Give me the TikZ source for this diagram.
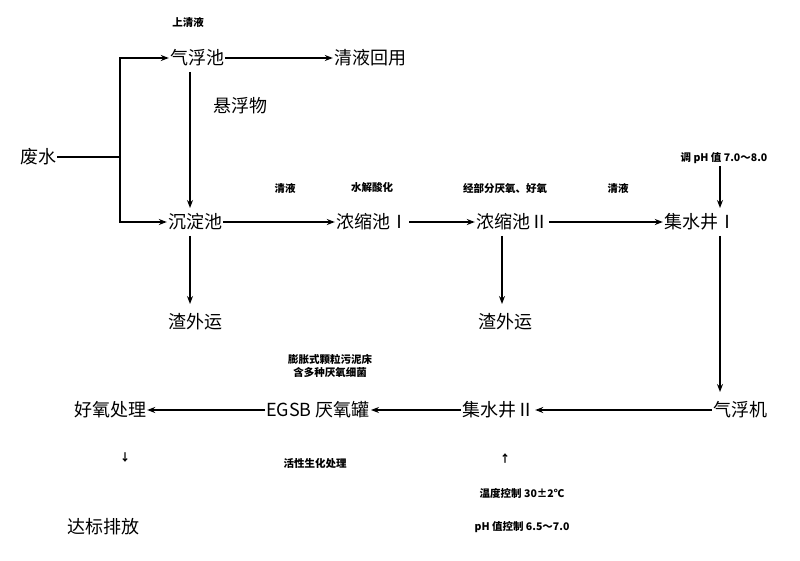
\documentclass[tikz,border=0pt]{standalone}
\usepackage{fontspec}
\setmainfont{Noto Sans CJK SC}
\usetikzlibrary{arrows.meta}
\begin{document}
\begin{tikzpicture}[x=1pt,y=-1pt,
 big/.style={font=\fontsize{18}{20}\selectfont,inner sep=1pt},
 sm/.style={font=\fontsize{10.5}{13}\selectfont\bfseries,inner sep=1pt},
 arr/.style={line width=1.2pt,-{Stealth[length=8pt,width=6pt]}},
 ln/.style={line width=1.2pt}]
\useasboundingbox (0,0) rectangle (800,561);
\node[sm] (t1) at (188,22) {上清液};
\node[big] (qfc) at (197,58) {气浮池};
\node[big] (qyhy) at (370,58) {清液回用};
\node[big] (xfw) at (240,106) {悬浮物};
\node[big] (fs) at (38,157) {废水};
\node[big] (cdc) at (195,222) {沉淀池};
\node[big] (zwy1) at (195,322) {渣外运};
\node[sm] (t2) at (285,188) {清液};
\node[sm] (t3) at (372,188) {水解酸化};
\node[big] (nsc1) at (372,222) {浓缩池Ⅰ};
\node[sm] (t4) at (505,188) {经部分厌氧、好氧};
\node[sm] (t5) at (618,188) {清液};
\node[big] (nsc2) at (512,222) {浓缩池Ⅱ};
\node[sm] (ph1) at (724,158) {调 pH 值 7.0～8.0};
\node[big] (jsj1) at (700,222) {集水井Ⅰ};
\node[big] (zwy2) at (505,322) {渣外运};
\node[sm,align=center] (t6) at (330,366) {膨胀式颗粒污泥床\\含多种厌氧细菌};
\node[big] (hy) at (110,410) {好氧处理};
\node[big] (egsb) at (318,410) {EGSB 厌氧罐};
\node[big] (jsj2) at (498,410) {集水井Ⅱ};
\node[big] (qfj) at (740,410) {气浮机};
\node[sm] (d1) at (125,458) {↓};
\node[sm] (t7) at (315,464) {活性生化处理};
\node[sm] (u1) at (505,458) {↑};
\node[sm] (t8) at (522,493) {温度控制 30±2℃};
\node[big] (db) at (103,527) {达标排放};
\node[sm] (t9) at (522,527) {pH 值控制 6.5～7.0};
\coordinate (s) at (120,157);
\draw[ln] (fs.east) -- (s);
\draw[arr] (s) |- (qfc.west);
\draw[arr] (s) |- (cdc.west);
\draw[arr] (qfc.east) -- (qyhy.west);
\draw[arr] (190,72) -- (190,208);
\draw[arr] (cdc.east) -- (nsc1.west);
\draw[arr] (nsc1.east) -- (nsc2.west);
\draw[arr] (nsc2.east) -- (jsj1.west);
\draw[arr] (720,166) -- (720,208);
\draw[arr] (190,236) -- (190,304);
\draw[arr] (502,236) -- (502,304);
\draw[arr] (720,236) -- (720,392);
\draw[arr] (qfj.west) -- (jsj2.east);
\draw[arr] (jsj2.west) -- (egsb.east);
\draw[arr] (egsb.west) -- (hy.east);
\end{tikzpicture}
\end{document}
